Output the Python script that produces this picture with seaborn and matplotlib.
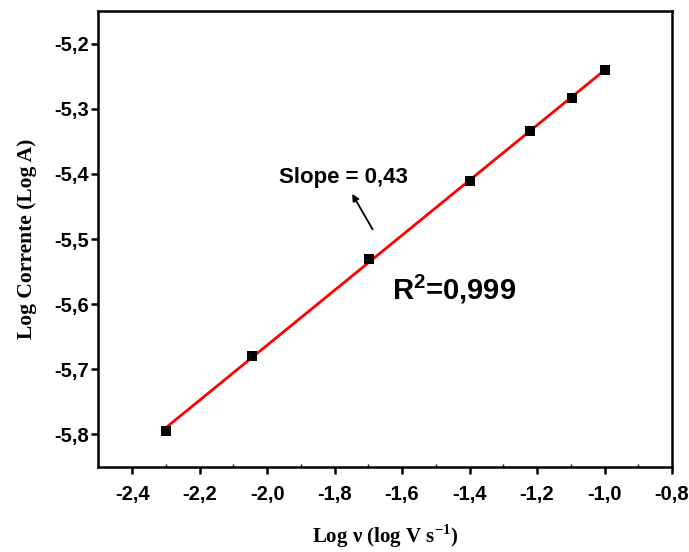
import numpy as np
import pandas as pd
import matplotlib
matplotlib.use("Agg")
import matplotlib.pyplot as plt
import seaborn as sns
from matplotlib.ticker import MultipleLocator, FuncFormatter, NullLocator

log_v = [-2.301, -2.046, -1.699, -1.398, -1.222, -1.097, -1.000]
log_i = [-5.795, -5.679, -5.531, -5.411, -5.334, -5.284, -5.241]

x_label = r"Log ν (log V s$^{\mathrm{-1}}$)"
y_label = "Log Corrente (Log A)"
slope_text = "Slope = 0,43"
r2_text = r"R$^{\mathsf{2}}$=0,999"

sns.set_theme(style="white")
plt.rcParams['font.family'] = ['Liberation Sans', 'DejaVu Sans']
plt.rcParams['mathtext.fontset'] = 'custom'
plt.rcParams['mathtext.rm'] = 'Liberation Serif:bold'
plt.rcParams['mathtext.bf'] = 'Liberation Serif:bold'
plt.rcParams['mathtext.sf'] = 'Liberation Sans:bold'
for k in ['text.color', 'axes.labelcolor', 'xtick.color', 'ytick.color', 'axes.edgecolor']:
    plt.rcParams[k] = 'black'

df = pd.DataFrame({"x": log_v, "y": log_i})

fig = plt.figure(figsize=(6.89, 5.52), dpi=100)
ax = fig.add_axes([0.1428, 0.154, 0.9753 - 0.1428, 0.980 - 0.154])

sns.regplot(data=df, x="x", y="y", ax=ax, ci=None, truncate=True, marker="s",
            scatter_kws=dict(s=62, color="black", alpha=1, zorder=3, linewidths=0),
            line_kws=dict(color="red", lw=2.0, zorder=2))

ax.set_xlim(-2.5, -0.8)
ax.set_ylim(-5.85, -5.15)
ax.xaxis.set_major_locator(MultipleLocator(0.2))
ax.xaxis.set_minor_locator(MultipleLocator(0.1))
ax.yaxis.set_major_locator(MultipleLocator(0.1))
ax.yaxis.set_minor_locator(NullLocator())
fmt = FuncFormatter(lambda v, p: f"{v:.1f}".replace(".", ",").replace("-0,0", "0,0"))
ax.xaxis.set_major_formatter(fmt)
ax.yaxis.set_major_formatter(fmt)

for s in ax.spines.values():
    s.set_visible(True)
    s.set_color("black")
    s.set_linewidth(1.8)

ax.tick_params(axis="both", which="major", direction="out", length=5, width=1.8,
               colors="black", labelsize=14.5)
ax.tick_params(axis="x", which="major", pad=8)
ax.tick_params(axis="y", which="major", pad=2)
ax.tick_params(axis="x", which="minor", direction="in", length=2, width=1.0, colors="black")
ax.tick_params(bottom=True, left=True, top=False, right=False, which="both")
for lab in ax.get_xticklabels() + ax.get_yticklabels():
    lab.set_fontweight("bold")

ax.set_xlabel(x_label, family=['Liberation Serif', 'DejaVu Serif'], fontweight="bold",
              fontsize=15, labelpad=13)
ax.set_ylabel(y_label, family=['Liberation Serif', 'DejaVu Serif'], fontweight="bold",
              fontsize=15.5, labelpad=12)

ax.text(-1.775, -5.405, slope_text, fontsize=16, fontweight="bold", ha="center", va="center")
ax.annotate("", xy=(-1.752, -5.427), xytext=(-1.683, -5.489),
            arrowprops=dict(arrowstyle="-|>", color="black", lw=1.3, mutation_scale=10))
ax.text(-1.445, -5.577, r2_text, fontsize=21, fontweight="bold", ha="center", va="center")

fig.savefig("out.png", dpi=100)
